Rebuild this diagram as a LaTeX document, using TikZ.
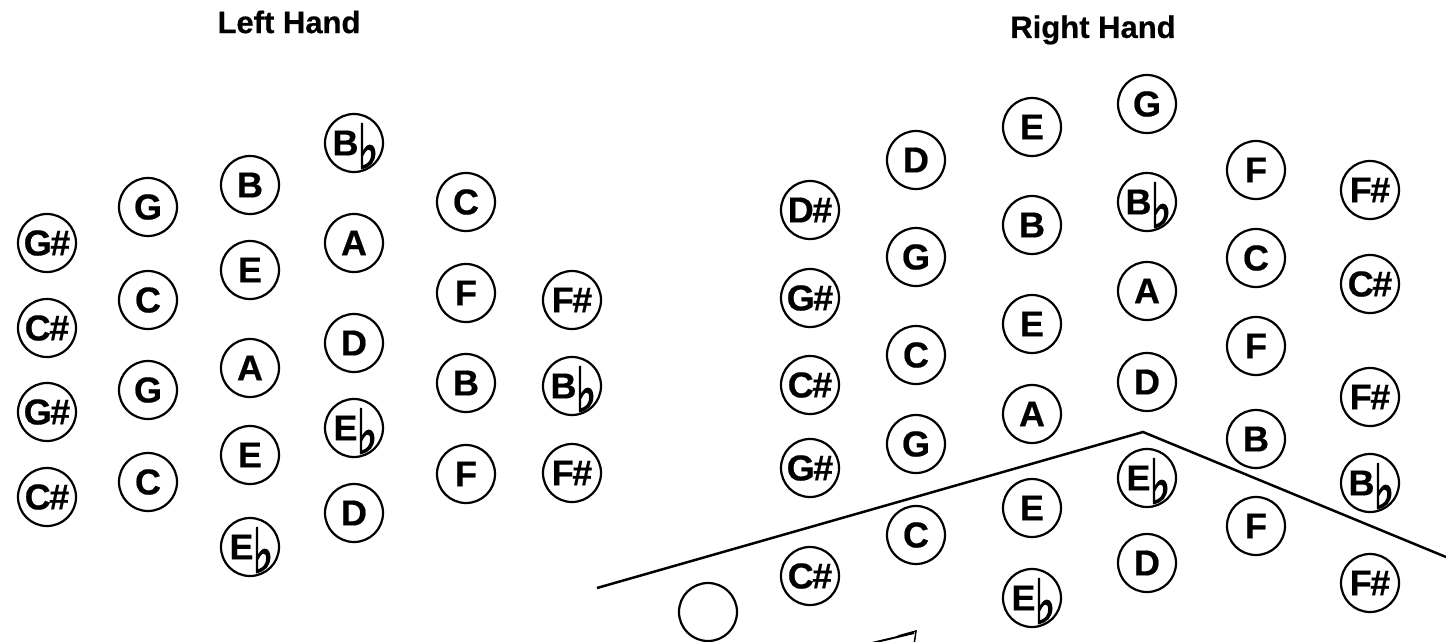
\documentclass[tikz,border=0pt]{standalone}
\usepackage{fontspec}
\usepackage{graphicx}
\setmainfont{Liberation Sans}
\newfontfamily\keyfont[FakeBold=0.5]{Liberation Sans Bold}
\newfontfamily\flatfont[FakeBold=2.5]{DejaVu Sans}
\newcommand{\flt}{\kern-1pt\smash{\raisebox{-13pt}{\resizebox*{21pt}{45pt}{\flatfont ♭}}}\kern-3pt}
\newcommand{\shp}{\kern-1.5pt\#}
\tikzset{
  key/.style={circle,draw,line width=2.2pt,minimum size=58pt,inner sep=0pt,
    font=\keyfont\fontsize{36}{36}\selectfont},
  title/.style={font=\keyfont\fontsize{31}{31}\selectfont},
  outline/.style={line width=2.5pt,line join=miter}
}
\begin{document}
\begin{tikzpicture}[x=1pt,y=-1pt]
\useasboundingbox (0,0) rectangle (1446,641);
\clip (0,0) rectangle (1446,641);
\node[title] (lh) at (289,22) {Left Hand};
\node[title] (rh) at (1093,30) {Right Hand};
% Left hand
\node[key] (l11) at (47,243) {G\shp};
\node[key] (l12) at (47,328) {C\shp};
\node[key] (l13) at (47,412) {G\shp};
\node[key] (l14) at (47,497) {C\shp};
\node[key] (l21) at (148,207) {G};
\node[key] (l22) at (148,300) {C};
\node[key] (l23) at (148,390) {G};
\node[key] (l24) at (148,482) {C};
\node[key] (l31) at (250,185) {B};
\node[key] (l32) at (250,270) {E};
\node[key] (l33) at (250,368) {A};
\node[key] (l34) at (250,455) {E};
\node[key] (l35) at (250,547) {E\flt};
\node[key] (l41) at (354,143) {B\flt};
\node[key] (l42) at (354,243) {A};
\node[key] (l43) at (354,343) {D};
\node[key] (l44) at (354,428) {E\flt};
\node[key] (l45) at (354,513) {D};
\node[key] (l51) at (466,202) {C};
\node[key] (l52) at (466,293) {F};
\node[key] (l53) at (466,383) {B};
\node[key] (l54) at (466,474) {F};
\node[key] (l61) at (572,300) {F\shp};
\node[key] (l62) at (572,386) {B\flt};
\node[key] (l63) at (572,473) {F\shp};
% Right hand
\node[key] (r11) at (810,210) {D\shp};
\node[key] (r12) at (810,298) {G\shp};
\node[key] (r13) at (810,385) {C\shp};
\node[key] (r14) at (810,468) {G\shp};
\node[key] (r15) at (810,576) {C\shp};
\node[key] (r21) at (916,160) {D};
\node[key] (r22) at (916,257) {G};
\node[key] (r23) at (916,355) {C};
\node[key] (r24) at (916,444) {G};
\node[key] (r25) at (916,535) {C};
\node[key] (r31) at (1032,127) {E};
\node[key] (r32) at (1032,225) {B};
\node[key] (r33) at (1032,324) {E};
\node[key] (r34) at (1032,414) {A};
\node[key] (r35) at (1032,508) {E};
\node[key] (r36) at (1032,598) {E\flt};
\node[key] (r41) at (1147,104) {G};
\node[key] (r42) at (1147,202) {B\flt};
\node[key] (r43) at (1147,291) {A};
\node[key] (r44) at (1147,382) {D};
\node[key] (r45) at (1147,478) {E\flt};
\node[key] (r46) at (1147,563) {D};
\node[key] (r51) at (1256,170) {F};
\node[key] (r52) at (1256,258) {C};
\node[key] (r53) at (1256,346) {F};
\node[key] (r54) at (1256,439) {B};
\node[key] (r55) at (1256,526) {F};
\node[key] (r61) at (1370,190) {F\shp};
\node[key] (r62) at (1370,284) {C\shp};
\node[key] (r63) at (1370,397) {F\shp};
\node[key] (r64) at (1370,483) {B\flt};
\node[key] (r65) at (1370,583) {F\shp};
% empty button
\node[key] (empty) at (708,612) {};
% outline
\coordinate (p1) at (597,588);
\coordinate (p2) at (1143,432);
\coordinate (p3) at (1446,557);
\draw[outline] (p1) -- (p2) -- (p3);
% arrow at bottom
\coordinate (a1) at (872,643);
\coordinate (a2) at (914,633);
\draw[line width=2pt] (a1) -- (a2);
\draw[line width=1.5pt,line join=miter] (898,636) -- (916,631) -- (914,645);
\end{tikzpicture}
\end{document}
